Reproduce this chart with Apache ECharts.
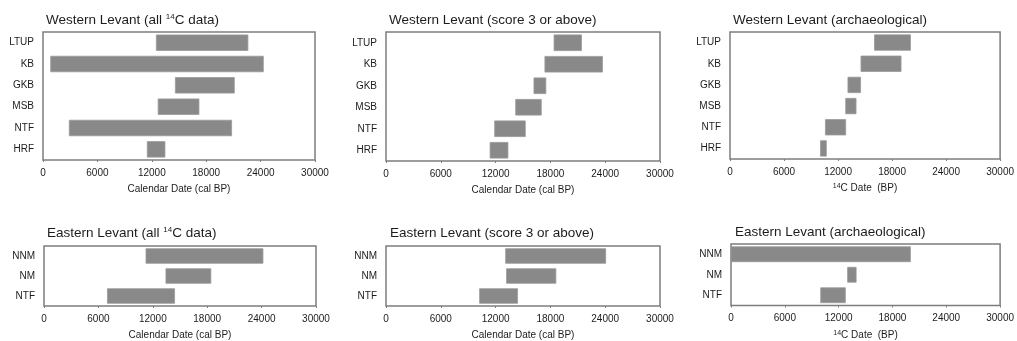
<!DOCTYPE html>
<html>
<head>
<meta charset="utf-8">
<script src="https://cdn.jsdelivr.net/npm/echarts@6/dist/echarts.min.js"></script>
<style>
  html, body { margin: 0; padding: 0; background: #fff; }
  #main { width: 1017px; height: 341px; }
</style>
</head>
<body>
<div id="main"></div>
<script>
// categories
var westCats = ['LTUP', 'KB', 'GKB', 'MSB', 'NTF', 'HRF'];
var eastCats = ['NNM', 'NM', 'NTF'];

// ranges (start / end, years BP)
var westAllStart = [12500, 850, 14600, 12700, 2900, 11500];
var westAllEnd = [22600, 24300, 21100, 17200, 20800, 13450];
var westScoreStart = [18400, 17400, 16200, 14200, 11900, 11400];
var westScoreEnd = [21400, 23700, 17500, 17000, 15250, 13350];
var westArchStart = [16050, 14550, 13100, 12850, 10600, 10050];
var westArchEnd = [20050, 19000, 14500, 14000, 12850, 10700];
var eastAllStart = [11250, 13450, 7000];
var eastAllEnd = [24150, 18400, 14400];
var eastScoreStart = [13100, 13200, 10250];
var eastScoreEnd = [24050, 18600, 14400];
var eastArchStart = [0, 13000, 10000];
var eastArchEnd = [20000, 13950, 12750];

// x axis
var xMin = 0;
var xMax = 30000;
var xStep = 6000;

var calName = 'Calendar Date (cal BP)';
var c14Name = '{sup|14}C Date  (BP)';

var FONT = '"Liberation Sans", Arial, Helvetica, sans-serif';
var INK = '#1c1c1c';

var panels = [
  { title: 'Western Levant (all {sup|14}C data)', cats: westCats, start: westAllStart, end: westAllEnd, name: calName,
    grid: { left: 43, top: 32, width: 272, height: 128 }, tx: 46, ty: 13 },
  { title: 'Western Levant (score 3 or above)', cats: westCats, start: westScoreStart, end: westScoreEnd, name: calName,
    grid: { left: 386, top: 32, width: 274, height: 129 }, tx: 389, ty: 13 },
  { title: 'Western Levant (archaeological)', cats: westCats, start: westArchStart, end: westArchEnd, name: c14Name,
    grid: { left: 730, top: 32, width: 272, height: 127 }, tx: 733, ty: 13 },
  { title: 'Eastern Levant (all {sup|14}C data)', cats: eastCats, start: eastAllStart, end: eastAllEnd, name: calName,
    grid: { left: 44, top: 246, width: 272, height: 61 }, tx: 47, ty: 226 },
  { title: 'Eastern Levant (score 3 or above)', cats: eastCats, start: eastScoreStart, end: eastScoreEnd, name: calName,
    grid: { left: 386, top: 246, width: 274, height: 63 }, tx: 390, ty: 226 },
  { title: 'Eastern Levant (archaeological)', cats: eastCats, start: eastArchStart, end: eastArchEnd, name: c14Name,
    grid: { left: 731, top: 244, width: 274, height: 63 }, tx: 735, ty: 225 }
];

function renderRange(params, api) {
  var cat = api.value(0);
  var p0 = api.coord([api.value(1), cat]);
  var p1 = api.coord([api.value(2), cat]);
  var h = api.size([0, 1])[1] * 0.73;
  return {
    type: 'rect',
    shape: { x: p0[0], y: p0[1] - h / 2, width: p1[0] - p0[0], height: h },
    style: { fill: '#898989', stroke: '#999', lineWidth: 0.8 }
  };
}

var chart = echarts.init(document.getElementById('main'), null, { renderer: 'canvas' });

var option = {
  animation: false,
  backgroundColor: '#fff',
  title: [],
  grid: [],
  xAxis: [],
  yAxis: [],
  series: []
};

panels.forEach(function (p, i) {
  option.title.push({
    text: p.title,
    left: p.tx,
    top: p.ty,
    padding: 0,
    textStyle: {
      fontFamily: FONT, fontSize: 13.5, fontWeight: 'normal', color: INK,
      rich: {
        sup: { fontFamily: FONT, fontSize: 8, color: INK, verticalAlign: 'top', padding: [0, 0, 5, 0] }
      }
    }
  });
  option.grid.push(Object.assign({
    show: true,
    borderColor: '#7d7d7d',
    borderWidth: 1.5,
    backgroundColor: '#fff'
  }, p.grid));
  option.xAxis.push({
    gridIndex: i,
    type: 'value',
    min: xMin,
    max: xMax,
    interval: xStep,
    name: p.name,
    nameLocation: 'middle',
    nameGap: 24,
    nameTextStyle: {
      fontFamily: FONT, fontSize: 10, color: INK,
      rich: {
        sup: { fontFamily: FONT, fontSize: 7, color: INK, verticalAlign: 'top', padding: [0, 0, 4, 0] }
      }
    },
    axisLine: { show: false },
    axisTick: { show: true, length: 2, lineStyle: { color: '#7d7d7d' } },
    splitLine: { show: false },
    axisLabel: {
      fontFamily: FONT, fontSize: 10, color: INK, margin: 8,
      formatter: function (v) { return String(v); }
    }
  });
  option.yAxis.push({
    gridIndex: i,
    type: 'category',
    inverse: true,
    data: p.cats,
    axisLine: { show: false },
    axisTick: { show: false },
    splitLine: { show: false },
    axisLabel: { fontFamily: FONT, fontSize: 10, color: INK, margin: 9 }
  });
  option.series.push({
    type: 'custom',
    xAxisIndex: i,
    yAxisIndex: i,
    renderItem: renderRange,
    encode: { x: [1, 2], y: 0 },
    data: p.cats.map(function (c, k) { return [k, p.start[k], p.end[k]]; })
  });
});

chart.setOption(option);
</script>
</body>
</html>
